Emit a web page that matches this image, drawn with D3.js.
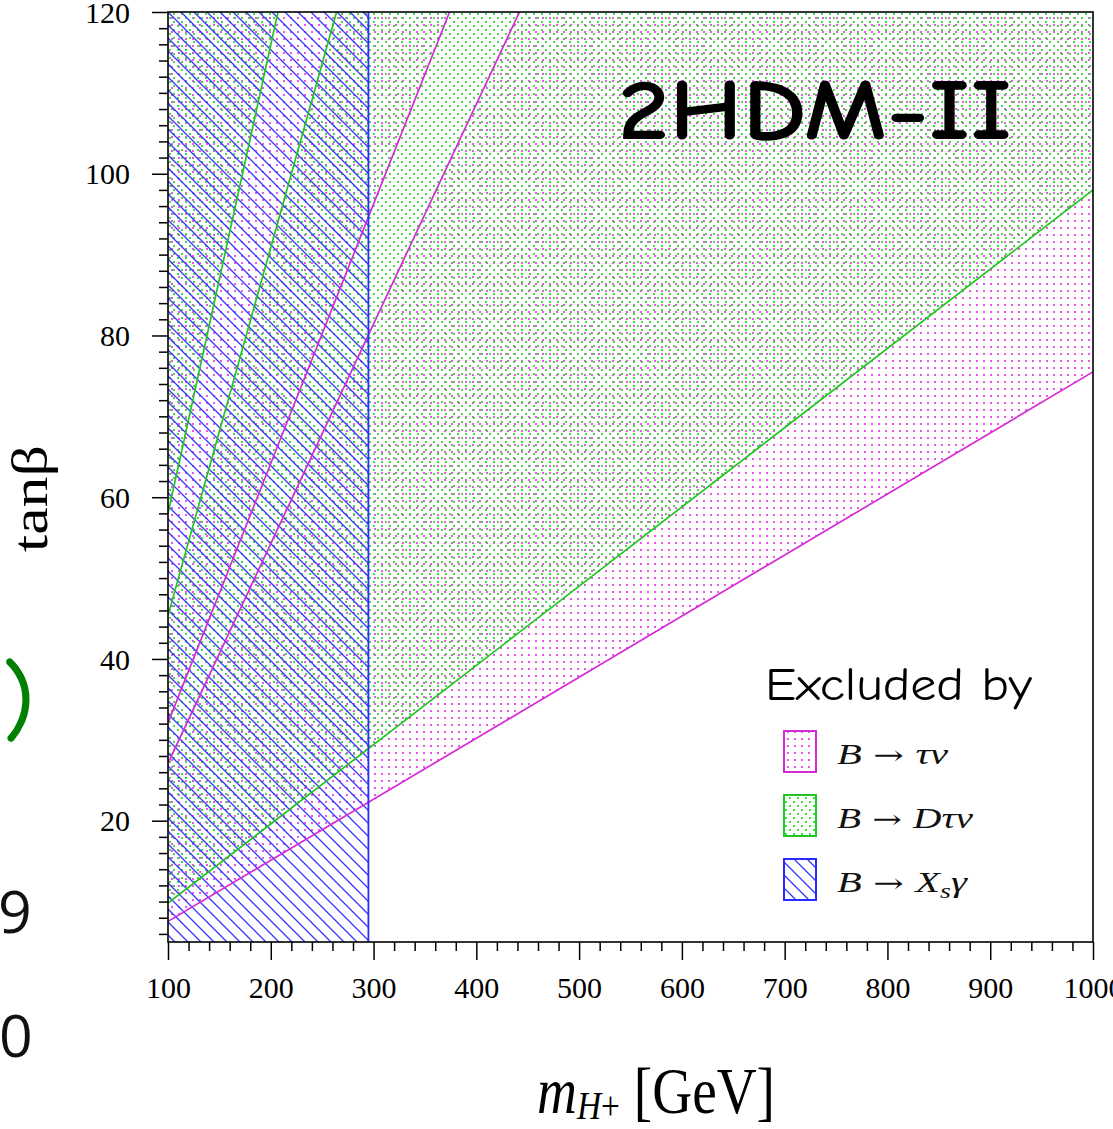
<!DOCTYPE html>
<html>
<head>
<meta charset="utf-8">
<script src="https://cdn.jsdelivr.net/npm/d3@7"></script>
<style>
  html, body { margin: 0; padding: 0; background: #fff; }
  svg { display: block; }
</style>
</head>
<body>
<svg id="chart" width="1113" height="1129"></svg>
<script>
// ---- axis settings ----
const xDomain = [100, 1000];
const yDomain = [5, 120];
const xMajorTicks = [100, 200, 300, 400, 500, 600, 700, 800, 900, 1000];
const xMinorTicks = d3.range(120, 1000, 20).filter(v => v % 100 !== 0);
const yMajorTicks = [20, 40, 60, 80, 100, 120];
const yMinorTicks = d3.range(6, 120, 2).filter(v => v % 20 !== 0);

// ---- exclusion boundaries, [mH+, tanβ] end points ----
const tauNuLow  = [[100, 7.55], [1000, 75.5]];
const tauNuMid  = [[100, 27.1], [442, 120]];
const tauNuHigh = [[100, 32.1], [374, 120]];
const dTauNuLow  = [[100, 9.8], [1000, 98]];
const dTauNuMid  = [[100, 45.4], [264, 120]];
const dTauNuHigh = [[100, 58], [207, 120]];
const xsGammaMass = 295;

// ---- excluded regions (polygons in data space) ----
const tauNuRegions = [
  [tauNuLow[0], tauNuLow[1], [1000, 120], tauNuMid[1], tauNuMid[0]],
  [tauNuHigh[0], tauNuHigh[1], [100, 120]]
];
const dTauNuRegions = [
  [dTauNuLow[0], dTauNuLow[1], [1000, 120], dTauNuMid[1], dTauNuMid[0]],
  [dTauNuHigh[0], dTauNuHigh[1], [100, 120]]
];
const xsGammaRegions = [
  [[100, 5], [xsGammaMass, 5], [xsGammaMass, 120], [100, 120]]
];

const legendItems = [
  { key: "tau",  color: "#d62ad6", pattern: "pTau"  },
  { key: "dtau", color: "#22c422", pattern: "pDTau" },
  { key: "xs",   color: "#2b2bff", pattern: "pXs"   }
];

const MAG = "#d62ad6", GRN = "#22c422", BLU = "#2b2bff";

const svg = d3.select("#chart");
svg.append("rect").attr("width", 1113).attr("height", 1129).attr("fill", "#fff");

const x = d3.scaleLinear().domain(xDomain).range([168, 1093]);
const y = d3.scaleLinear().domain(yDomain).range([942, 12]);

// ---- fill patterns ----
const defs = svg.append("defs");
const pTau = defs.append("pattern").attr("id", "pTau")
  .attr("patternUnits", "userSpaceOnUse").attr("width", 7).attr("height", 7);
pTau.append("rect").attr("x", 3).attr("y", 3).attr("width", 2).attr("height", 2)
  .attr("fill", "#e858e8").attr("shape-rendering", "crispEdges");

const pDTau = defs.append("pattern").attr("id", "pDTau")
  .attr("patternUnits", "userSpaceOnUse").attr("width", 8).attr("height", 8);
pDTau.append("rect").attr("x", 1).attr("y", 1).attr("width", 2).attr("height", 2)
  .attr("fill", "#44dc44").attr("shape-rendering", "crispEdges");
pDTau.append("rect").attr("x", 5).attr("y", 5).attr("width", 2).attr("height", 2)
  .attr("fill", "#44dc44").attr("shape-rendering", "crispEdges");

const pXs = defs.append("pattern").attr("id", "pXs")
  .attr("patternUnits", "userSpaceOnUse").attr("width", 13).attr("height", 13);
pXs.append("path").attr("d", "M-1,-1 L14,14 M-1,12 L1,14 M12,-1 L14,1")
  .attr("stroke", "#3535ff").attr("stroke-width", 1.3);

defs.append("clipPath").attr("id", "plotClip")
  .append("rect").attr("x", 168).attr("y", 12).attr("width", 925).attr("height", 930);

const plot = svg.append("g").attr("clip-path", "url(#plotClip)");
const poly = d3.line().x(d => x(d[0])).y(d => y(d[1]));

plot.selectAll("path.tau").data(tauNuRegions).join("path")
  .attr("class", "tau").attr("d", d => poly(d) + "Z").attr("fill", "url(#pTau)");
plot.selectAll("path.dtau").data(dTauNuRegions).join("path")
  .attr("class", "dtau").attr("d", d => poly(d) + "Z").attr("fill", "url(#pDTau)");
plot.selectAll("path.xs").data(xsGammaRegions).join("path")
  .attr("class", "xs").attr("d", d => poly(d) + "Z").attr("fill", "url(#pXs)");

// boundary lines
const boundaries = [
  { pts: tauNuLow, c: MAG }, { pts: tauNuMid, c: MAG }, { pts: tauNuHigh, c: MAG },
  { pts: dTauNuLow, c: GRN }, { pts: dTauNuMid, c: GRN }, { pts: dTauNuHigh, c: GRN }
];
plot.selectAll("path.bnd").data(boundaries).join("path")
  .attr("class", "bnd").attr("d", d => poly(d.pts)).attr("fill", "none")
  .attr("stroke", d => d.c).attr("stroke-width", 1.7);

plot.append("line")
  .attr("x1", x(xsGammaMass)).attr("x2", x(xsGammaMass))
  .attr("y1", y(yDomain[0])).attr("y2", y(yDomain[1]))
  .attr("stroke", BLU).attr("stroke-width", 1.8);

// ---- axes ----
const tickFont = "'Liberation Serif', 'Times New Roman', serif";

const xMinor = svg.append("g").attr("transform", "translate(0,942)")
  .call(d3.axisBottom(x).tickValues(xMinorTicks).tickSize(9).tickFormat(""));
const xMajor = svg.append("g").attr("transform", "translate(0,942)")
  .call(d3.axisBottom(x).tickValues(xMajorTicks).tickSize(18).tickFormat(d3.format("d")));
xMajor.selectAll("text").attr("y", 56).attr("dy", 0)
  .attr("font-family", tickFont).attr("font-size", 30).attr("fill", "#000");

const yMinor = svg.append("g").attr("transform", "translate(168,0)")
  .call(d3.axisLeft(y).tickValues(yMinorTicks).tickSize(9).tickFormat(""));
const yMajor = svg.append("g").attr("transform", "translate(168,0)")
  .call(d3.axisLeft(y).tickValues(yMajorTicks).tickSize(16).tickFormat(d3.format("d")));
yMajor.selectAll("text").attr("x", -38).attr("dy", "0.34em")
  .attr("font-family", tickFont).attr("font-size", 30).attr("fill", "#000");

[xMinor, xMajor, yMinor, yMajor].forEach(g => {
  g.select(".domain").remove();
  g.selectAll("line").attr("stroke", "#000").attr("stroke-width", 1.5);
});

// frame
svg.append("rect").attr("x", 168).attr("y", 12).attr("width", 925).attr("height", 930)
  .attr("fill", "none").attr("stroke", "#000").attr("stroke-width", 1.6);

// ---- titles ----
svg.append("text")
  .attr("transform", "translate(47,552) rotate(-90)")
  .attr("font-family", tickFont).attr("font-size", 50)
  .attr("textLength", 107).attr("lengthAdjust", "spacingAndGlyphs")
  .text("tanβ");

const xt = svg.append("text").attr("x", 537).attr("y", 1113)
  .attr("font-family", tickFont).attr("font-size", 66)
  .attr("textLength", 238).attr("lengthAdjust", "spacingAndGlyphs");
xt.append("tspan").attr("font-style", "italic").text("m");
xt.append("tspan").attr("font-style", "italic").attr("font-size", 40).attr("dy", 6).text("H");
xt.append("tspan").attr("font-size", 40).text("+");
xt.append("tspan").attr("dy", -6).text(" [GeV]");

const comic = "'Comic Sans MS', 'Comic Neue', 'DejaVu Sans', sans-serif";
svg.append("text").attr("x", 618).attr("y", 139)
  .attr("font-family", comic).attr("font-weight", "bold").attr("font-size", 86)
  .attr("textLength", 394).attr("lengthAdjust", "spacingAndGlyphs")
  .text("2HDM-II");

// ---- legend ----
svg.append("text").attr("x", 765).attr("y", 700)
  .attr("font-family", comic).attr("font-size", 47)
  .attr("textLength", 267).attr("lengthAdjust", "spacingAndGlyphs")
  .text("Excluded by");

const legY = [731, 795, 859];
const legW = [111, 136, 130];
const leg = svg.append("g");
legendItems.forEach((it, i) => {
  leg.append("rect").attr("x", 784).attr("y", legY[i]).attr("width", 32).attr("height", 41)
    .attr("fill", "url(#" + it.pattern + ")").attr("stroke", it.color).attr("stroke-width", 2);
  const t = leg.append("text").attr("x", 837).attr("y", legY[i] + 33)
    .attr("font-family", tickFont).attr("font-size", 29).attr("fill", "#111")
    .attr("textLength", legW[i]).attr("lengthAdjust", "spacingAndGlyphs");
  t.append("tspan").attr("font-style", "italic").text("B");
  t.append("tspan").attr("font-family", "'DejaVu Serif', serif").attr("font-size", 26).text(" \u2192 ");
  if (it.key === "tau") {
    t.append("tspan").attr("font-style", "italic").text("τν");
  } else if (it.key === "dtau") {
    t.append("tspan").attr("font-style", "italic").text("Dτν");
  } else {
    t.append("tspan").attr("font-style", "italic").text("X");
    t.append("tspan").attr("font-style", "italic").attr("font-size", 20).attr("dy", 6).text("s");
    t.append("tspan").attr("font-style", "italic").attr("dy", -6).text("γ");
  }
});

// ---- stray slide text at the left edge ----
svg.append("text").attr("x", 3).attr("y", 731)
  .attr("font-family", comic).attr("font-size", 90)
  .attr("fill", "#008000").attr("stroke", "#008000").attr("stroke-width", 1.5)
  .text(")");
svg.append("text").attr("x", -2).attr("y", 933)
  .attr("font-family", "'Open Sans', 'DejaVu Sans', sans-serif").attr("font-size", 59).attr("fill", "#111")
  .text("9");
svg.append("text").attr("x", -1).attr("y", 1057)
  .attr("font-family", "'Open Sans', 'DejaVu Sans', sans-serif").attr("font-size", 59).attr("fill", "#111")
  .text("0");
</script>
</body>
</html>
